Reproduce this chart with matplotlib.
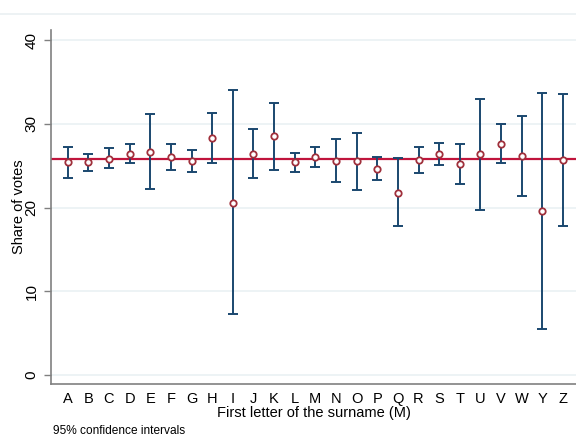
import matplotlib
matplotlib.use("Agg")
import matplotlib.pyplot as plt
from matplotlib.lines import Line2D

plt.rcParams["font.family"] = ["Liberation Sans", "DejaVu Sans"]

letters = ["A","B","C","D","E","F","G","H","I","J","K","L","M","N","O","P","Q","R","S","T","U","V","W","Y","Z"]
share = [25.43,25.43,25.83,26.39,26.59,26.03,25.55,28.3,20.57,26.43,28.5,25.43,26.03,25.55,25.55,24.64,21.77,25.67,26.43,25.15,26.35,27.62,26.11,19.58,25.63]
ci_hi = [27.26,26.43,27.06,27.54,31.13,27.62,26.83,31.32,34.03,29.37,32.52,26.57,27.26,28.18,28.93,26.07,25.95,27.26,27.74,27.62,32.92,30.01,30.93,33.71,33.59]
ci_lo = [23.56,24.40,24.76,25.35,22.21,24.44,24.24,25.27,7.28,23.56,24.44,24.28,24.80,23.00,22.13,23.28,17.83,24.08,25.11,22.81,19.70,25.27,21.41,5.53,17.83]
mean_share = 25.74
yticks = [0, 10, 20, 30, 40]

fig = plt.figure(figsize=(5.76, 4.4), dpi=100)
ax = fig.add_axes([51/576, 56/440, 1 - 51/576, (384-30)/440])

# faint top border line of graph region
fig.add_artist(Line2D([0, 1], [1 - 14/440, 1 - 14/440], color="#eaf0f2", lw=1.2, transform=fig.transFigure))

x = list(range(len(letters)))
for yv in yticks:
    ax.axhline(yv, color="#eaf1f4", lw=1.2, zorder=0)

ax.axhline(mean_share, color="#c0143c", lw=1.6, zorder=2)

yerr = [[s - l for s, l in zip(share, ci_lo)], [h - s for s, h in zip(share, ci_hi)]]
ax.errorbar(x, share, yerr=yerr, fmt="none", ecolor="#1a476f", elinewidth=1.4,
            capsize=3.5, capthick=1.4, zorder=3)
ax.plot(x, share, linestyle="none", marker="o", markersize=4.6, markerfacecolor="white",
        markeredgecolor="#a0303c", markeredgewidth=1.3, zorder=4)

ax.set_xlim(-0.81, 24.63)
ax.set_ylim(-1.07, 41.2)
ax.set_xticks(x)
ax.set_xticklabels(letters, fontsize=10.5)
ax.tick_params(axis="x", length=0, pad=6)
ax.set_yticks(yticks)
ax.set_yticklabels([str(v) for v in yticks], rotation=90, va="center", fontsize=11)
ax.tick_params(axis="y", length=5, width=1, color="#808080", pad=4)

for s in ["top", "right"]:
    ax.spines[s].set_visible(False)
ax.spines["left"].set_color("#808080")
ax.spines["bottom"].set_color("#808080")
ax.spines["left"].set_linewidth(1.2)
ax.spines["bottom"].set_linewidth(1.2)

ax.set_xlabel("First letter of the surname (M)", fontsize=10.5, labelpad=0)
ax.set_ylabel("Share of votes", fontsize=10.5, labelpad=-1)
fig.text(53/576, 1 - 431/440, "95% confidence intervals", fontsize=8.6, va="center", ha="left")

fig.savefig("out.png", dpi=100)
